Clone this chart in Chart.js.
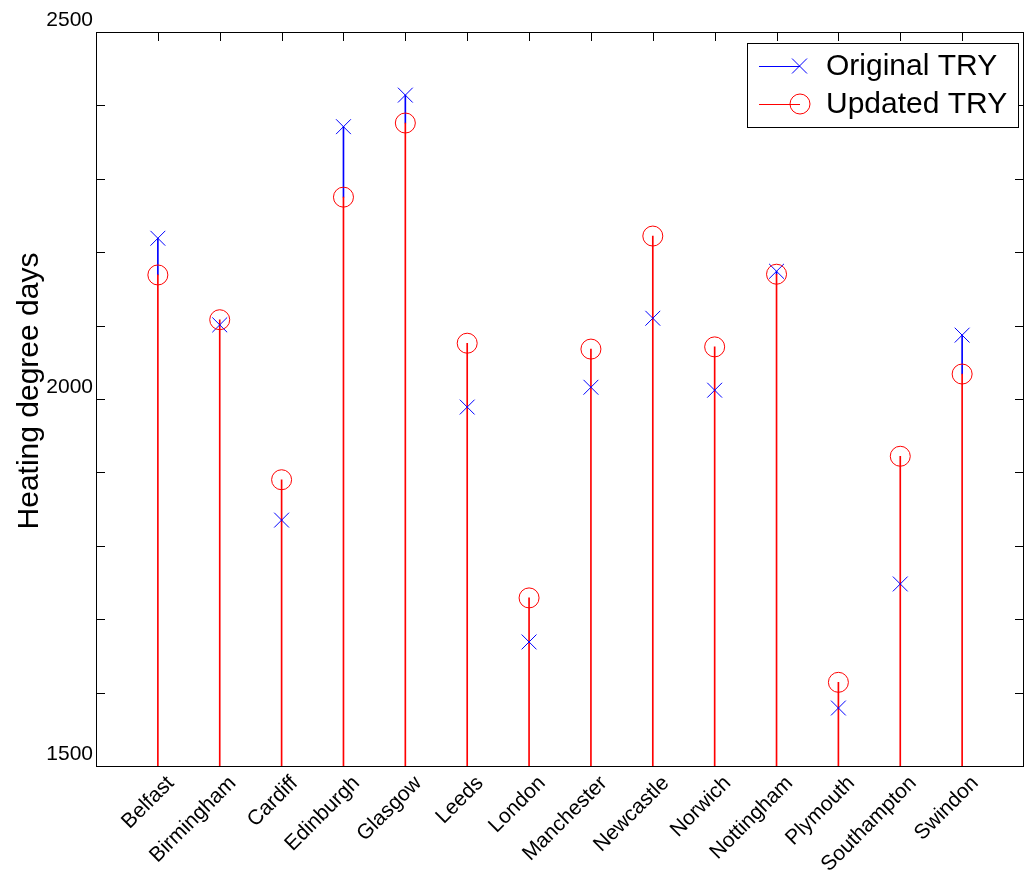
<!DOCTYPE html>
<html>
<head>
<meta charset="utf-8">
<script src="https://cdn.jsdelivr.net/npm/chart.js@4/dist/chart.umd.min.js"></script>
<style>
  html,body{margin:0;padding:0;background:#fff;}
  #wrap{width:1025px;height:877px;}
</style>
</head>
<body>
<div id="wrap"><canvas id="c" width="1025" height="877"></canvas></div>
<script>
// city order along x
const cities = ['Belfast','Birmingham','Cardiff','Edinburgh','Glasgow','Leeds','London','Manchester','Newcastle','Norwich','Nottingham','Plymouth','Southampton','Swindon'];
// heating degree days
const originalTRY = [2219, 2101, 1835, 2371, 2414, 1989, 1669, 2016, 2110, 2012, 2174, 1579, 1748, 2087];
const updatedTRY  = [2169, 2108, 1890, 2275, 2376, 2076, 1729, 2068, 2222, 2071, 2170, 1614, 1922, 2034];
const yTicks = [1500, 2000, 2500];

const BLUE = 'rgb(0,0,255)', RED = 'rgb(255,0,0)';
const FONT = '"Liberation Sans", Arial, sans-serif';
// pad one empty slot each side so the cities sit at 1..14 on a 0..15 axis
const labels = ['', ...cities, ''];
const pad = arr => [null, ...arr, null];
// blue stem only shows where it sticks out above the red one
const blueStem = originalTRY.map((v,i) => [Math.min(v, updatedTRY[i]), v]);

// MATLAB-ish box: frame + inward ticks on all four sides, y title, legend
const boxPlugin = {
  id:'box',
  afterDatasetsDraw(chart){
    const {ctx, chartArea:a, scales:{x, y}} = chart;
    ctx.save();
    ctx.strokeStyle = '#000'; ctx.lineWidth = 1;
    ctx.beginPath();
    for(let v=1500; v<=2500; v+=100){
      const py = Math.round(y.getPixelForValue(v)) + .5;
      ctx.moveTo(a.left, py); ctx.lineTo(a.left+9, py);
      ctx.moveTo(a.right, py); ctx.lineTo(a.right-9, py);
    }
    for(let i=1; i<=cities.length; i++){
      const px = Math.round(x.getPixelForValue(i)) + .5;
      ctx.moveTo(px, a.top); ctx.lineTo(px, a.top+9);
    }
    ctx.stroke();
    ctx.strokeRect(Math.round(a.left)+.5, Math.round(a.top)+.5, Math.round(a.right-a.left)-1, Math.round(a.bottom-a.top));
    ctx.restore();
  },
  afterDraw(chart){
    const ctx = chart.ctx;
    ctx.save();
    // y title
    ctx.fillStyle = '#000';
    ctx.font = '30px ' + FONT;
    ctx.textAlign = 'center'; ctx.textBaseline = 'middle';
    ctx.translate(30, 391); ctx.rotate(-Math.PI/2);
    ctx.fillText('Heating degree days', 0, 0);
    ctx.restore();

    ctx.save();
    // legend box
    ctx.fillStyle = '#fff'; ctx.fillRect(747, 43, 271, 84);
    ctx.strokeStyle = '#000'; ctx.lineWidth = 1;
    ctx.strokeRect(747.5, 43.5, 271, 84);
    const rows = [{t:'Original TRY', c:BLUE, m:'x', y:66}, {t:'Updated TRY', c:RED, m:'o', y:104}];
    ctx.font = '30px ' + FONT;
    ctx.textBaseline = 'middle';
    rows.forEach(r=>{
      ctx.strokeStyle = r.c;
      ctx.beginPath(); ctx.moveTo(759, r.y+.5); ctx.lineTo(800, r.y+.5); ctx.stroke();
      ctx.beginPath();
      if(r.m==='x'){ ctx.moveTo(792, r.y-7.5); ctx.lineTo(807, r.y+7.5); ctx.moveTo(807, r.y-7.5); ctx.lineTo(792, r.y+7.5); }
      else ctx.arc(800, r.y, 10, 0, Math.PI*2);
      ctx.stroke();
      ctx.fillStyle = '#000'; ctx.fillText(r.t, 826, r.y+1);
    });
    ctx.restore();
  }
};

new Chart(document.getElementById('c'), {
  type:'bar',
  data:{
    labels,
    datasets:[
      {type:'line', label:'Updated TRY', data:pad(updatedTRY), showLine:false, pointStyle:'circle', pointRadius:10, pointBorderWidth:1, pointBorderColor:RED, pointBackgroundColor:'rgba(0,0,0,0)', order:1},
      {type:'line', label:'Original TRY', data:pad(originalTRY), showLine:false, pointStyle:'crossRot', pointRadius:10.5, pointBorderWidth:1, pointBorderColor:BLUE, order:2},
      {label:'Updated stem', data:pad(updatedTRY), backgroundColor:RED, barThickness:1, grouped:false, order:3},
      {label:'Original stem', data:pad(blueStem), backgroundColor:BLUE, barThickness:1, grouped:false, order:4}
    ]
  },
  options:{
    responsive:false, animation:false, devicePixelRatio:1,
    layout:{autoPadding:false, padding:{top:32, right:1, left:0, bottom:0}},
    plugins:{legend:{display:false}, tooltip:{enabled:false}},
    scales:{
      x:{
        offset:false,
        grid:{display:false, drawTicks:false}, border:{display:false},
        ticks:{autoSkip:false, maxRotation:45, minRotation:45, padding:5, labelOffset:13, color:'#000',
               font:{family:FONT, size:21}},
        afterFit(s){ s.height = 111; s.paddingLeft = 0; s.paddingRight = 0; }
      },
      y:{
        min:1500, max:2500,
        grid:{display:false, drawTicks:false}, border:{display:false},
        ticks:{stepSize:100, padding:3, labelOffset:-12, color:'#000',
               font:{family:FONT, size:21},
               callback:v => yTicks.includes(v) ? String(v) : ''},
        afterFit(s){ s.width = 96; }
      }
    }
  },
  plugins:[boxPlugin]
});
</script>
</body>
</html>
